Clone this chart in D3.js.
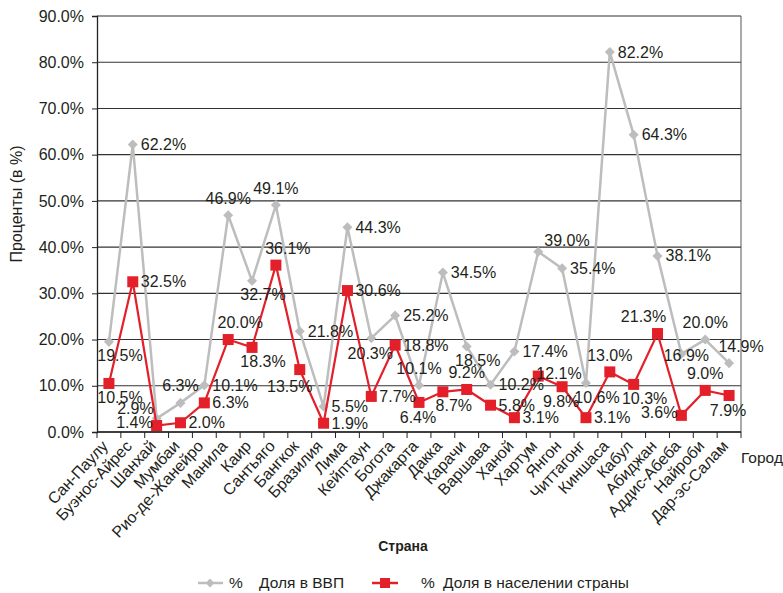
<!DOCTYPE html>
<html><head><meta charset="utf-8">
<script src="https://cdn.jsdelivr.net/npm/d3@7"></script>
<style>
body{margin:0;background:#fff;}
text{font-family:"Liberation Sans",Arial,sans-serif;fill:#231f20;}
</style></head>
<body>
<svg id="c" width="783" height="593"></svg>
<script>
const cities = ["Сан-Паулу","Буэнос-Айрес","Шанхай","Мумбаи","Рио-де-Жанейро","Манила","Каир","Сантьяго","Бангкок","Бразилия","Лима","Кейптаун","Богота","Джакарта","Дакка","Карачи","Варшава","Ханой","Хартум","Янгон","Читтагонг","Киншаса","Кабул","Абиджан","Аддис-Абеба","Найроби","Дар-эс-Салам"];
const gdpShare = [19.5,62.2,2.9,6.3,10.1,46.9,32.7,49.1,21.8,5.5,44.3,20.3,25.2,10.1,34.5,18.5,10.2,17.4,39.0,35.4,10.6,82.2,64.3,38.1,16.9,20.0,14.9];
const popShare = [10.5,32.5,1.4,2.0,6.3,20.0,18.3,36.1,13.5,1.9,30.6,7.7,18.8,6.4,8.7,9.2,5.8,3.1,12.1,9.8,3.1,13.0,10.3,21.3,3.6,9.0,7.9];
const yTicks = [0,10,20,30,40,50,60,70,80,90];
// label placement codes
const gdpLabelPos = ["br","r","lu","t","r","t","br","t","r","r","r","b","r","t","r","br","r","r","ru","r","br","r","r","r","c","t","tr"];
const popLabelPos = ["br","r","l","r","r","tr","br","tr","bl","r","r","r","r","b","br","t","r","r","rc","b","r","t","br","tl","l","t","b"];

const place = {
  r:{a:"start",dx:8,dy:0}, l:{a:"end",dx:-4,dy:-3}, lu:{a:"end",dx:-3,dy:-10},
  ru:{a:"start",dx:6,dy:-11}, rc:{a:"start",dx:-2,dy:-3},
  t:{a:"middle",dx:0,dy:-17}, tr:{a:"middle",dx:12,dy:-17}, tl:{a:"middle",dx:-14,dy:-17},
  b:{a:"middle",dx:-1,dy:15}, br:{a:"middle",dx:11,dy:14}, bl:{a:"middle",dx:-10,dy:17},
  c:{a:"middle",dx:5,dy:2}
};

const svg = d3.select("#c");
const L=97,R=741,T=16,B=432;
const x = d3.scaleBand().domain(cities).range([L,R]).padding(0);
const cx = c => x(c)+x.bandwidth()/2;
const y = d3.scaleLinear().domain([0,90]).range([B,T]);

// gridlines
svg.append("g").selectAll("line").data(yTicks).join("line")
  .attr("x1",L).attr("x2",R).attr("y1",d=>y(d)).attr("y2",d=>y(d))
  .attr("stroke","#333").attr("stroke-width",1.1);
// right border
svg.append("line").attr("x1",R).attr("x2",R).attr("y1",T).attr("y2",B).attr("stroke","#555").attr("stroke-width",1);

// y axis
const ya = svg.append("g").attr("transform",`translate(${L},0)`)
  .call(d3.axisLeft(y).tickValues(yTicks).tickSize(5).tickPadding(8).tickFormat(d=>d.toFixed(1)+"%"));
ya.select(".domain").attr("stroke","#222").attr("stroke-width",1.3);
ya.selectAll(".tick line").attr("stroke","#222");
ya.selectAll(".tick text").attr("font-size",16).attr("font-family","Liberation Sans, Arial, sans-serif").attr("fill","#231f20");

// x axis
const xa = svg.append("g").attr("transform",`translate(0,${B})`);
xa.append("line").attr("x1",L).attr("x2",R).attr("stroke","#222").attr("stroke-width",1.3);
const edges = cities.map(c=>x(c)).concat([R]);
xa.selectAll("line.tk").data(edges).join("line").attr("class","tk")
  .attr("x1",d=>d).attr("x2",d=>d).attr("y1",0).attr("y2",6).attr("stroke","#222");
xa.selectAll("text.lab").data(cities).join("text").attr("class","lab")
  .attr("transform",d=>`translate(${cx(d)-4},${11}) rotate(-47)`)
  .attr("text-anchor","end").attr("dy","0.35em").attr("font-size",16).text(d=>d);

// axis titles
svg.append("text").attr("transform","translate(22,204) rotate(-90)").attr("text-anchor","middle")
  .attr("font-size",16).text("Проценты (в %)");
svg.append("text").attr("x",403).attr("y",551).attr("text-anchor","middle").attr("font-size",14)
  .attr("font-weight","bold").text("Страна");
svg.append("text").attr("x",741).attr("y",463).attr("font-size",15.5).text("Город");

// lines
const gray="#bdbdbd", red="#e3202a";
const line = d3.line().x((d,i)=>cx(cities[i])).y(d=>y(d));
svg.append("path").datum(gdpShare).attr("d",line).attr("fill","none").attr("stroke",gray).attr("stroke-width",2.5);
svg.append("g").selectAll("path").data(gdpShare).join("path")
  .attr("d",d3.symbol(d3.symbolDiamond2,64)())
  .attr("transform",(d,i)=>`translate(${cx(cities[i])},${y(d)})`).attr("fill",gray);
svg.append("path").datum(popShare).attr("d",line).attr("fill","none").attr("stroke",red).attr("stroke-width",2.2);
svg.append("g").selectAll("rect").data(popShare).join("rect")
  .attr("x",(d,i)=>cx(cities[i])-5.5).attr("y",d=>y(d)-5.5).attr("width",11).attr("height",11).attr("fill",red);

// labels
function labels(vals,pos){
  svg.append("g").selectAll("text").data(vals).join("text")
    .each(function(d,i){
      const p=place[pos[i]];
      d3.select(this).attr("x",cx(cities[i])+p.dx).attr("y",y(d)+p.dy).attr("dy","0.35em")
        .attr("text-anchor",p.a).attr("font-size",16).text(d.toFixed(1)+"%");
    });
}
labels(gdpShare,gdpLabelPos);
labels(popShare,popLabelPos);

// legend
const lg = svg.append("g").attr("transform","translate(0,583)");
lg.append("line").attr("x1",198).attr("x2",223).attr("stroke",gray).attr("stroke-width",2.5);
lg.append("path").attr("d",d3.symbol(d3.symbolDiamond2,50)()).attr("transform","translate(210,0)").attr("fill",gray);
lg.append("text").attr("x",229).attr("dy","0.35em").attr("font-size",15.5).text("%");
lg.append("text").attr("x",259).attr("dy","0.35em").attr("font-size",15.5).text("Доля в ВВП");
lg.append("line").attr("x1",372).attr("x2",398).attr("stroke",red).attr("stroke-width",2.5);
lg.append("rect").attr("x",380).attr("y",-5).attr("width",10).attr("height",10).attr("fill",red);
lg.append("text").attr("x",421).attr("dy","0.35em").attr("font-size",15.5).text("%");
lg.append("text").attr("x",443).attr("dy","0.35em").attr("font-size",15.5).text("Доля в населении страны");
</script>
</body></html>
